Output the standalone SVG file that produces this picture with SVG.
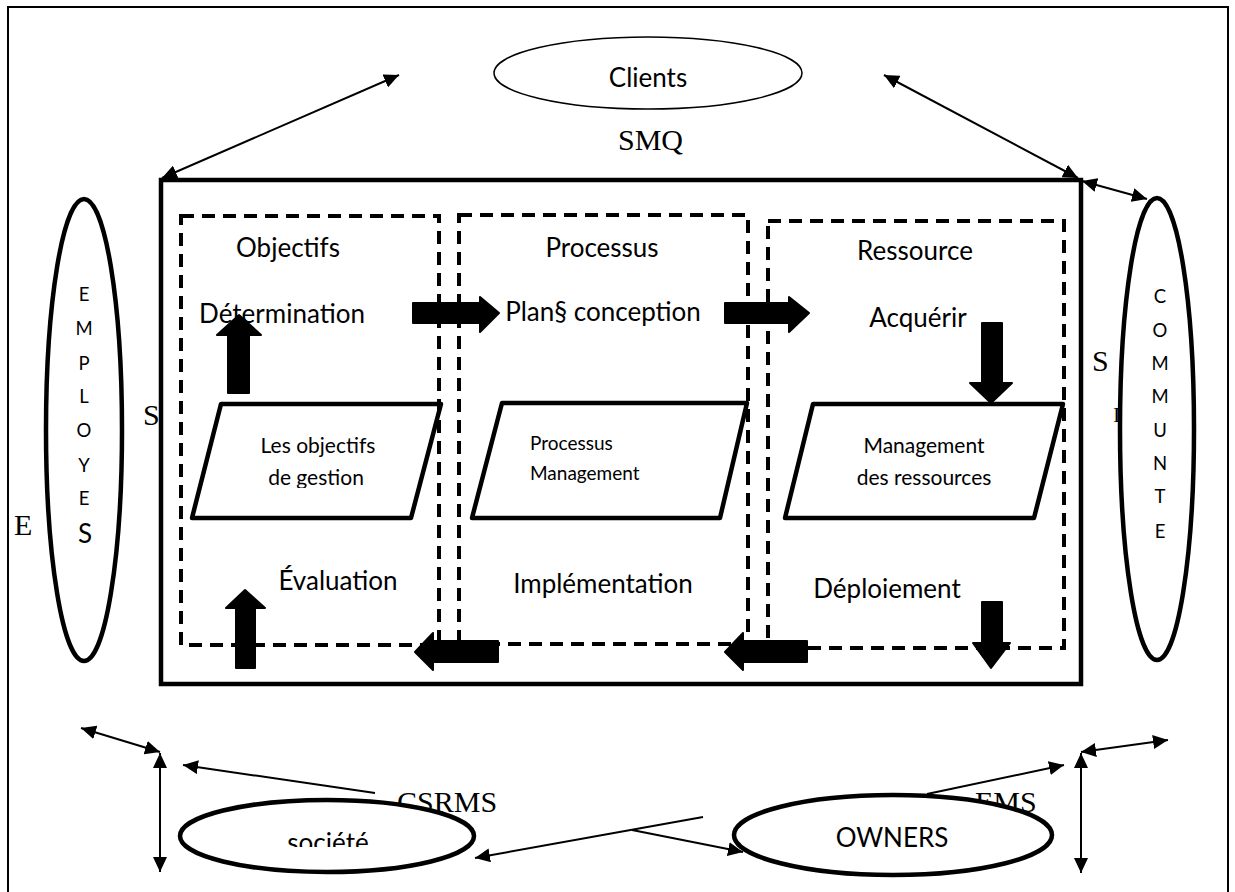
<svg xmlns="http://www.w3.org/2000/svg" width="1235" height="892" viewBox="0 0 1235 892">
  <style>
    .sans { font-family: Lato, "Open Sans", "Liberation Sans", sans-serif; fill: #000; }
    .serif { font-family: "Liberation Serif", "Times New Roman", serif; fill: #000; font-size: 30px; }
    .big { font-size: 26px; }
    .mid { font-size: 21px; }
    .small { font-size: 19px; }
    .letter { font-size: 18.5px; text-anchor: middle; }
    .mc { text-anchor: middle; }
    .dash { fill: none; stroke: #000; stroke-width: 4; stroke-dasharray: 13 8; }
    .para { fill: none; stroke: #000; stroke-width: 4.5; stroke-linejoin: round; }
    .block { fill: #000; stroke: #000; stroke-width: 2; stroke-linejoin: round; }
    .oval { fill: #fff; stroke: #000; stroke-width: 4.5; }
    .link { fill: none; stroke: #000; stroke-width: 2; }
  </style>
  <defs>
    <marker id="head" viewBox="0 0 15 14" refX="15" refY="7" markerWidth="15" markerHeight="14" markerUnits="userSpaceOnUse" orient="auto-start-reverse">
      <path d="M0,0 L15,7 L0,14 z" fill="#000"/>
    </marker>
    <clipPath id="clip-gestion"><rect x="180" y="380" width="300" height="108"/></clipPath>
    <clipPath id="clip-societe"><rect x="240" y="790" width="180" height="57"/></clipPath>
  </defs>

  <!-- page frame -->
  <rect x="8" y="7" width="1220" height="900" fill="none" stroke="#000" stroke-width="2"/>

  <!-- SMQ system frame -->
  <g id="smq">
    <rect x="161" y="180" width="920" height="504" fill="none" stroke="#000" stroke-width="4.5"/>
    <text class="serif" x="618" y="150">SMQ</text>
    <text class="serif" x="143" y="425">S</text>
    <text class="serif" x="14" y="535">E</text>
    <text class="serif" x="1092" y="371">S</text>
    <text class="serif" x="1113" y="422" style="font-size:22px">I</text>
  </g>

  <!-- column: objectives -->
  <g id="objectifs">
    <rect class="dash" x="181" y="216" width="258" height="429"/>
    <text class="sans big mc" x="288" y="257">Objectifs</text>
    <text class="sans big mc" x="282" y="323">Détermination</text>
    <text class="sans big mc" x="338" y="590">Évaluation</text>
    <polygon class="para" points="221,404 441,404 411,518 192,518"/>
    <text class="sans mid mc" x="318" y="453">Les objectifs</text>
    <text class="sans mid mc" x="316" y="485" clip-path="url(#clip-gestion)">de gestion</text>
  </g>

  <!-- column: processes -->
  <g id="processus">
    <rect class="dash" x="459" y="215" width="289" height="429"/>
    <text class="sans big mc" x="602" y="257">Processus</text>
    <text class="sans big mc" x="603" y="321">Plan§ conception</text>
    <text class="sans big mc" x="603" y="593">Implémentation</text>
    <polygon class="para" points="502,403 747,403 720,518 472,518"/>
    <text class="sans small" x="530" y="450">Processus</text>
    <text class="sans small" x="530" y="480">Management</text>
  </g>

  <!-- column: resources -->
  <g id="ressource">
    <rect class="dash" x="768" y="221" width="296" height="427"/>
    <text class="sans big mc" x="915" y="260">Ressource</text>
    <text class="sans big mc" x="918" y="327">Acquérir</text>
    <text class="sans big mc" x="887" y="598">Déploiement</text>
    <polygon class="para" points="813,404 1063,404 1034,518 785,518"/>
    <text class="sans mid mc" x="924" y="453">Management</text>
    <text class="sans mid mc" x="924" y="485">des ressources</text>
  </g>

  <!-- block arrows of the cycle -->
  <g id="cycle-arrows">
    <polygon class="block" points="228,393 249,393 249,335 261,335 239,315 217,335 228,335"/>
    <polygon class="block" points="236,668 255,668 255,608 265,608 245,590 226,608 236,608"/>
    <polygon class="block" points="413,303 480,303 480,297 499,313 480,332 480,323 413,323"/>
    <polygon class="block" points="725,303 789,303 789,297 809,313 789,332 789,323 725,323"/>
    <polygon class="block" points="982,323 1002,323 1002,383 1012,383 991,403 970,383 982,383"/>
    <polygon class="block" points="982,602 1002,602 1002,643 1010,643 991,668 973,643 982,643"/>
    <polygon class="block" points="498,641 498,662 433,662 433,670 415,652 433,633 433,641"/>
    <polygon class="block" points="807,641 807,662 743,662 743,670 725,652 743,633 743,641"/>
  </g>

  <!-- connectors -->
  <g id="connectors">
    <line class="link" x1="399" y1="75" x2="162" y2="178" marker-start="url(#head)" marker-end="url(#head)"/>
    <line class="link" x1="884" y1="75" x2="1078" y2="178" marker-start="url(#head)" marker-end="url(#head)"/>
    <line class="link" x1="1082" y1="181" x2="1147" y2="199" marker-start="url(#head)" marker-end="url(#head)"/>
    <line class="link" x1="81" y1="728" x2="160" y2="752" marker-start="url(#head)" marker-end="url(#head)"/>
    <line class="link" x1="160" y1="753" x2="160" y2="872" marker-start="url(#head)" marker-end="url(#head)"/>
    <line class="link" x1="375" y1="793" x2="183" y2="765" marker-end="url(#head)"/>
    <line class="link" x1="703" y1="817" x2="475" y2="858" marker-end="url(#head)"/>
    <line class="link" x1="632" y1="830" x2="743" y2="852" marker-end="url(#head)"/>
    <line class="link" x1="927" y1="794" x2="1064" y2="765" marker-end="url(#head)"/>
    <line class="link" x1="1081" y1="753" x2="1081" y2="873" marker-start="url(#head)" marker-end="url(#head)"/>
    <line class="link" x1="1081" y1="752" x2="1168" y2="740" marker-start="url(#head)" marker-end="url(#head)"/>
  </g>

  <!-- stakeholders -->
  <g id="clients">
    <ellipse cx="648" cy="73" rx="154" ry="36" fill="#fff" stroke="#000" stroke-width="1.5"/>
    <text class="sans big mc" x="648" y="87">Clients</text>
  </g>

  <g id="employes">
    <ellipse class="oval" cx="84" cy="430" rx="38" ry="231"/>
    <text class="sans letter" x="84" y="301">E</text>
    <text class="sans letter" x="84" y="335">M</text>
    <text class="sans letter" x="84" y="370">P</text>
    <text class="sans letter" x="84" y="403">L</text>
    <text class="sans letter" x="84" y="437">O</text>
    <text class="sans letter" x="84" y="472">Y</text>
    <text class="sans letter" x="84" y="505">E</text>
    <text class="sans letter" x="85" y="543" style="font-size:26px">S</text>
  </g>

  <g id="communaute">
    <ellipse class="oval" cx="1157" cy="429" rx="37" ry="231"/>
    <text class="sans letter" x="1160" y="303">C</text>
    <text class="sans letter" x="1160" y="337">O</text>
    <text class="sans letter" x="1160" y="370">M</text>
    <text class="sans letter" x="1160" y="403">M</text>
    <text class="sans letter" x="1160" y="437">U</text>
    <text class="sans letter" x="1160" y="470">N</text>
    <text class="sans letter" x="1160" y="503">T</text>
    <text class="sans letter" x="1160" y="538">E</text>
  </g>

  <g id="societe">
    <text class="serif" x="397" y="812">CSRMS</text>
    <ellipse class="oval" cx="327" cy="836" rx="147" ry="36"/>
    <text class="sans big mc" x="328" y="852" clip-path="url(#clip-societe)">société</text>
  </g>

  <g id="owners">
    <text class="serif" x="975" y="812">EMS</text>
    <ellipse class="oval" cx="893" cy="835" rx="159" ry="40"/>
    <text class="sans big mc" x="892" y="847">OWNERS</text>
  </g>
</svg>
